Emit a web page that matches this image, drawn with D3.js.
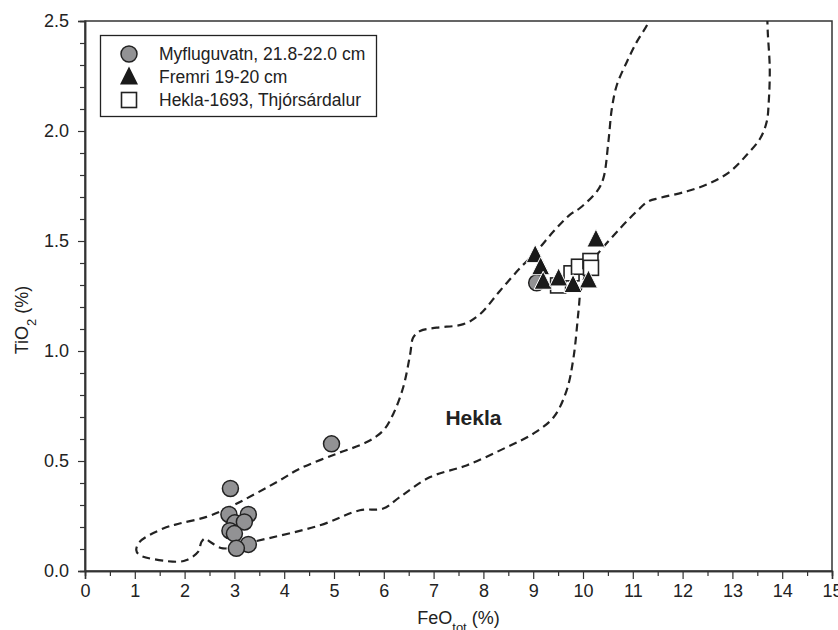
<!DOCTYPE html>
<html>
<head>
<meta charset="utf-8">
<script src="https://cdn.jsdelivr.net/npm/d3@7/dist/d3.min.js"></script>
<style>
  body { margin: 0; background: #fff; }
  text { font-family: "Liberation Sans", Arial, Helvetica, sans-serif; fill: #222; }
</style>
</head>
<body>
<svg id="chart" width="838" height="630"></svg>
<script>
// FeO_tot (%), TiO2 (%)
const myfluguvatn = [
    [2.92, 0.375], [2.89, 0.257], [3.28, 0.257], [3.01, 0.219], [3.20, 0.223],
    [2.91, 0.183], [3.00, 0.170], [3.28, 0.121], [3.04, 0.103], [4.95, 0.578],
    [9.07, 1.310]
];
const fremri = [
    [9.04, 1.436], [10.26, 1.507], [9.15, 1.381], [9.20, 1.315], [9.51, 1.330],
    [9.80, 1.300], [10.11, 1.321]
];
const hekla1693 = [
    [9.50, 1.298], [9.77, 1.353], [9.92, 1.383], [10.15, 1.409], [10.16, 1.378]
];

// dashed compositional field of Hekla, traced from the top right round to the top left
const heklaField = [
    [13.70, 2.52], [13.71, 2.45], [13.75, 2.284], [13.73, 2.133], [13.69, 2.043], [13.56, 1.967],
    [13.29, 1.892], [12.96, 1.817], [12.55, 1.763], [12.09, 1.726], [11.55, 1.696],
    [11.31, 1.680], [11.08, 1.635], [10.75, 1.559], [10.34, 1.454], [10.14, 1.394],
    [9.96, 1.280], [9.91, 1.182], [9.81, 0.971], [9.67, 0.820], [9.41, 0.699],
    [9.00, 0.624], [8.47, 0.563], [7.66, 0.480], [6.93, 0.427], [6.32, 0.336],
    [5.99, 0.284], [5.52, 0.276], [4.72, 0.208], [3.38, 0.133], [2.77, 0.103],
    [2.51, 0.133], [2.41, 0.148], [2.34, 0.133], [2.27, 0.087], [2.04, 0.050],
    [1.84, 0.042], [1.10, 0.072], [1.03, 0.095], [1.10, 0.133], [1.57, 0.193],
    [1.90, 0.216], [2.44, 0.246], [2.91, 0.291], [3.91, 0.412], [4.31, 0.465],
    [5.05, 0.533], [5.66, 0.586], [5.99, 0.639], [6.19, 0.714], [6.39, 0.835],
    [6.53, 0.986], [6.59, 1.061], [6.73, 1.091], [7.06, 1.106], [7.60, 1.122],
    [7.93, 1.167], [8.33, 1.273], [8.74, 1.378], [9.07, 1.454], [9.41, 1.544],
    [9.74, 1.620], [9.94, 1.650], [10.28, 1.726], [10.41, 1.786], [10.51, 1.952],
    [10.58, 2.103], [10.68, 2.209], [10.88, 2.314], [11.08, 2.405], [11.29, 2.483],
    [11.36, 2.52]
];

const xTicks = d3.range(0, 16, 1);
const xMinorTicks = d3.range(0.5, 15, 1);
const yTicks = [0, 0.5, 1.0, 1.5, 2.0, 2.5];
const yMinorTicks = d3.range(1, 25).map(i => i / 10).filter(v => Math.round(v * 10) % 5 !== 0);

const legendItems = [
    { type: "circle", label: "Myfluguvatn, 21.8-22.0 cm" },
    { type: "triangle", label: "Fremri 19-20 cm" },
    { type: "square", label: "Hekla-1693, Thjórsárdalur" }
];

const plot = { left: 85, right: 832, top: 21, bottom: 571 };

const svg = d3.select("#chart");
const x = d3.scaleLinear().domain([0, 15]).range([plot.left, plot.right]);
const y = d3.scaleLinear().domain([0, 2.5]).range([plot.bottom, plot.top]);

const ink = "#222";

// clip for the field outline
svg.append("defs").append("clipPath").attr("id", "plotClip")
    .append("rect")
    .attr("x", plot.left).attr("y", plot.top)
    .attr("width", plot.right - plot.left).attr("height", plot.bottom - plot.top);

// frame
svg.append("rect")
    .attr("x", plot.left).attr("y", plot.top)
    .attr("width", plot.right - plot.left).attr("height", plot.bottom - plot.top)
    .attr("fill", "none").attr("stroke", "#333").attr("stroke-width", 1.5);

// axes
const fmtY = d3.format(".1f");
svg.append("g").attr("transform", `translate(0,${plot.bottom})`)
    .call(d3.axisBottom(x).tickValues(xTicks).tickFormat(d3.format("d")).tickSize(8).tickPadding(5));
svg.append("g").attr("transform", `translate(0,${plot.bottom})`)
    .call(d3.axisBottom(x).tickValues(xMinorTicks).tickFormat("").tickSize(5));
svg.append("g").attr("transform", `translate(${plot.left},0)`)
    .call(d3.axisLeft(y).tickValues(yTicks).tickFormat(fmtY).tickSize(7).tickPadding(9));
svg.append("g").attr("transform", `translate(${plot.left},0)`)
    .call(d3.axisLeft(y).tickValues(yMinorTicks).tickFormat("").tickSize(5));

svg.selectAll(".domain").attr("stroke", "#333").attr("stroke-width", 1.5);
svg.selectAll(".tick line").attr("stroke", "#333").attr("stroke-width", 1.2);
svg.selectAll(".tick text")
    .style("font-family", "'Liberation Sans', Arial, sans-serif")
    .style("font-size", "18px").attr("fill", ink);

// axis titles
const xTitle = svg.append("text")
    .attr("x", (plot.left + plot.right) / 2).attr("y", 624)
    .attr("text-anchor", "middle").style("font-size", "18px");
xTitle.append("tspan").text("FeO");
xTitle.append("tspan").attr("baseline-shift", "sub").style("font-size", "13px").text("tot");
xTitle.append("tspan").text(" (%)");

const yTitle = svg.append("text")
    .attr("transform", "translate(28,320) rotate(-90)")
    .attr("text-anchor", "middle").style("font-size", "18px");
yTitle.append("tspan").text("TiO");
yTitle.append("tspan").attr("baseline-shift", "sub").style("font-size", "13px").text("2");
yTitle.append("tspan").text(" (%)");

// Hekla field
const line = d3.line().x(d => x(d[0])).y(d => y(d[1])).curve(d3.curveCatmullRom.alpha(0.5));
svg.append("path")
    .datum(heklaField)
    .attr("clip-path", "url(#plotClip)")
    .attr("d", line)
    .attr("fill", "none")
    .attr("stroke", ink)
    .attr("stroke-width", 2.2)
    .attr("stroke-dasharray", "8,5");

svg.append("text")
    .attr("x", x(7.8)).attr("y", y(0.7) + 8)
    .attr("text-anchor", "middle")
    .style("font-size", "21px").style("font-weight", "bold")
    .text("Hekla");

// marker shapes
const triPath = s => `M0,${-s * 0.58}L${s / 2},${s * 0.42}L${-s / 2},${s * 0.42}Z`;

function drawCircle(g, cx, cy) {
    g.append("circle").attr("cx", cx).attr("cy", cy).attr("r", 8)
        .attr("fill", "#929294").attr("stroke", ink).attr("stroke-width", 1.5);
}
function drawSquare(g, cx, cy) {
    g.append("rect").attr("x", cx - 7.5).attr("y", cy - 7.5).attr("width", 15).attr("height", 15)
        .attr("fill", "#fff").attr("stroke", ink).attr("stroke-width", 1.6);
}
function drawTriangle(g, cx, cy) {
    g.append("path").attr("d", triPath(18)).attr("transform", `translate(${cx},${cy})`)
        .attr("fill", "#1a1a1a").attr("stroke", "#fff").attr("stroke-width", 1);
}

const marks = svg.append("g");
myfluguvatn.forEach(d => drawCircle(marks, x(d[0]), y(d[1])));
hekla1693.forEach(d => drawSquare(marks, x(d[0]), y(d[1])));
fremri.forEach(d => drawTriangle(marks, x(d[0]), y(d[1])));

// legend
const legend = svg.append("g");
legend.append("rect")
    .attr("x", 100.5).attr("y", 35.5).attr("width", 276).attr("height", 81)
    .attr("fill", "#fff").attr("stroke", ink).attr("stroke-width", 1.3);
const drawers = { circle: drawCircle, triangle: drawTriangle, square: drawSquare };
legendItems.forEach((item, i) => {
    const cy = 54 + i * 23;
    if (item.type === "triangle") {
        legend.append("path").attr("d", triPath(18)).attr("transform", `translate(129,${cy})`)
            .attr("fill", "#1a1a1a");
    } else {
        drawers[item.type](legend, 129, cy);
    }
    legend.append("text").attr("x", 159).attr("y", cy + 6)
        .style("font-size", "17.5px").text(item.label);
});
</script>
</body>
</html>
